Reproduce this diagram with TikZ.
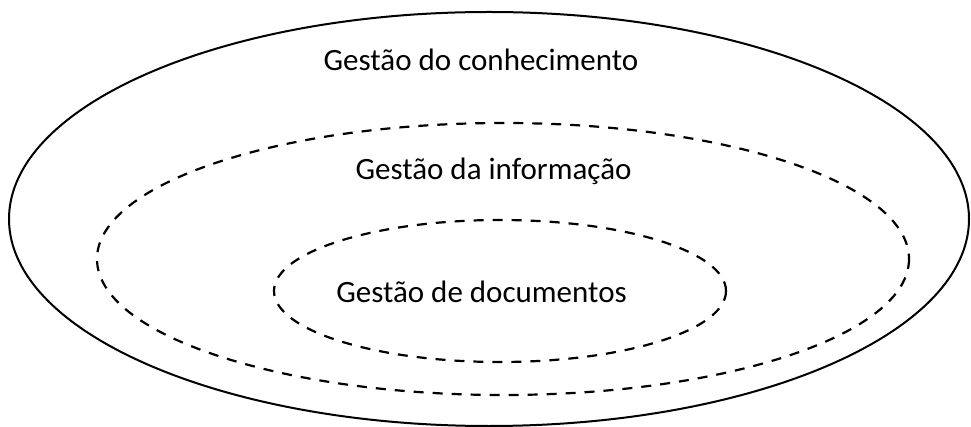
\documentclass[tikz,border=0pt]{standalone}
\usepackage{fontspec}
\setmainfont{Carlito}
\begin{document}
\begin{tikzpicture}[x=1pt,y=-1pt,
  solidring/.style={draw=black,line width=2pt},
  dashring/.style={draw=black,line width=2.2pt,dash pattern=on 10pt off 9pt},
  lbl/.style={anchor=base,inner sep=0pt,font=\fontsize{31}{36}\selectfont}]
\useasboundingbox (0,0) rectangle (971,427);
\draw[solidring] (489,219) ellipse [x radius=480,y radius=207];
\draw[dashring] (503,259) ellipse [x radius=406,y radius=136];
\draw[dashring] (500,291) ellipse [x radius=226,y radius=71];
\node[lbl] (k) at (481,71) {Gestão do conhecimento};
\node[lbl] (i) at (493.5,180) {Gestão da informação};
\node[lbl] (d) at (481.5,303) {Gestão de documentos};
\end{tikzpicture}
\end{document}
